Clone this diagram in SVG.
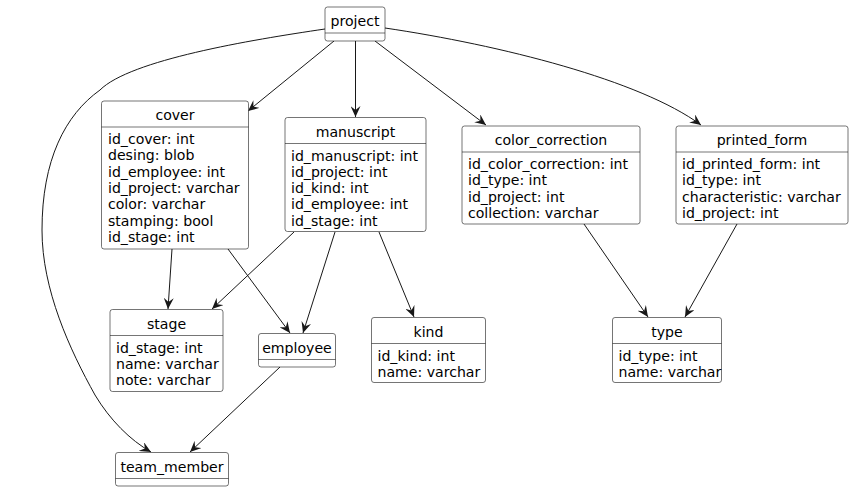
<svg xmlns="http://www.w3.org/2000/svg" width="854" height="492" viewBox="0 0 854 492">
<style>
.box{fill:#fff;stroke:#181818;stroke-width:0.6}
.sep{stroke:#181818;stroke-width:0.6}
text{font-family:"DejaVu Sans","Liberation Sans",sans-serif;font-size:14.1px;fill:#000}
.h{text-anchor:middle}
.edge{fill:none;stroke:#181818;stroke-width:1;marker-end:url(#arr)}
</style>
<defs>
<marker id="arr" viewBox="0 0 12 10" refX="11" refY="5" markerWidth="12" markerHeight="10" markerUnits="userSpaceOnUse" orient="auto">
<path d="M0,0 L11,5 L0,10 L4,5 Z" fill="#181818"/>
</marker>
</defs>
<rect width="854" height="492" fill="#fff"/>
<g id="connectors">
<path class="edge" d="M334,41 L248,111"/>
<path class="edge" d="M355.5,41 L355.5,117"/>
<path class="edge" d="M375,41 L486,125"/>
<path class="edge" d="M385,28 C500,45 640,80 701,125"/>
<path class="edge" d="M325,29 C250,40 130,60 100,90 C65,115 42,160 42,230 C42,290 70,350 95,395 C110,420 130,440 151,452"/>
<path class="edge" d="M172,249 L168,309"/>
<path class="edge" d="M228,249 L290,333"/>
<path class="edge" d="M294,232 L212,309"/>
<path class="edge" d="M335,232 L303,333"/>
<path class="edge" d="M379,232 L414,317"/>
<path class="edge" d="M584,224 L648,317"/>
<path class="edge" d="M737,224 L685,317"/>
<path class="edge" d="M280,367 L190,452"/>
</g>
<g id="project">
<rect class="box" x="325" y="7" width="60" height="34" rx="2.5"/>
<line class="sep" x1="325" y1="33" x2="385" y2="33"/>
<text class="h" x="355" y="26">project</text>
</g>
<g id="cover">
<rect class="box" x="101.5" y="101" width="147" height="148" rx="2.5"/>
<line class="sep" x1="101.5" y1="127" x2="248.5" y2="127"/>
<text class="h" x="175" y="120">cover</text>
<text x="108" y="144">id_cover: int</text>
<text x="108" y="160.3">desing: blob</text>
<text x="108" y="176.6">id_employee: int</text>
<text x="108" y="192.9">id_project: varchar</text>
<text x="108" y="209.2">color: varchar</text>
<text x="108" y="225.5">stamping: bool</text>
<text x="108" y="241.8">id_stage: int</text>
</g>
<g id="manuscript">
<rect class="box" x="285" y="117.5" width="141" height="114" rx="2.5"/>
<line class="sep" x1="285" y1="143.5" x2="426" y2="143.5"/>
<text class="h" x="355.5" y="136.5">manuscript</text>
<text x="291" y="160.5">id_manuscript: int</text>
<text x="291" y="176.8">id_project: int</text>
<text x="291" y="193.1">id_kind: int</text>
<text x="291" y="209.4">id_employee: int</text>
<text x="291" y="225.7">id_stage: int</text>
</g>
<g id="color_correction">
<rect class="box" x="462" y="126" width="178" height="98" rx="2.5"/>
<line class="sep" x1="462" y1="152" x2="640" y2="152"/>
<text class="h" x="551" y="145">color_correction</text>
<text x="468" y="169">id_color_correction: int</text>
<text x="468" y="185.3">id_type: int</text>
<text x="468" y="201.6">id_project: int</text>
<text x="468" y="217.9">collection: varchar</text>
</g>
<g id="printed_form">
<rect class="box" x="676" y="126" width="172" height="98" rx="2.5"/>
<line class="sep" x1="676" y1="152" x2="848" y2="152"/>
<text class="h" x="762" y="145">printed_form</text>
<text x="682" y="169">id_printed_form: int</text>
<text x="682" y="185.3">id_type: int</text>
<text x="682" y="201.6">characteristic: varchar</text>
<text x="682" y="217.9">id_project: int</text>
</g>
<g id="stage">
<rect class="box" x="110" y="309.5" width="113" height="82" rx="2.5"/>
<line class="sep" x1="110" y1="335.5" x2="223" y2="335.5"/>
<text class="h" x="166.5" y="328.5">stage</text>
<text x="116" y="352.5">id_stage: int</text>
<text x="116" y="368.8">name: varchar</text>
<text x="116" y="385.1">note: varchar</text>
</g>
<g id="employee">
<rect class="box" x="258.5" y="333.5" width="77" height="33.5" rx="2.5"/>
<line class="sep" x1="258.5" y1="359.5" x2="335.5" y2="359.5"/>
<text class="h" x="297" y="352.5">employee</text>
</g>
<g id="kind">
<rect class="box" x="371.5" y="317.5" width="114" height="65" rx="2.5"/>
<line class="sep" x1="371.5" y1="343.5" x2="485.5" y2="343.5"/>
<text class="h" x="428.5" y="336.5">kind</text>
<text x="377.5" y="360.5">id_kind: int</text>
<text x="377.5" y="376.8">name: varchar</text>
</g>
<g id="type">
<rect class="box" x="612.5" y="317.5" width="109" height="65" rx="2.5"/>
<line class="sep" x1="612.5" y1="343.5" x2="721.5" y2="343.5"/>
<text class="h" x="667" y="336.5">type</text>
<text x="618.5" y="360.5">id_type: int</text>
<text x="618.5" y="376.8">name: varchar</text>
</g>
<g id="team_member">
<rect class="box" x="115.5" y="452.5" width="113" height="33.5" rx="2.5"/>
<line class="sep" x1="115.5" y1="478.5" x2="228.5" y2="478.5"/>
<text class="h" x="172" y="471.5">team_member</text>
</g>
</svg>
